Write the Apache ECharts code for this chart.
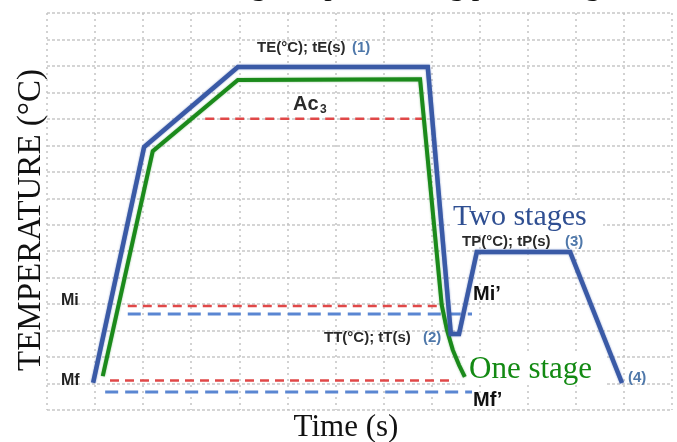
<!DOCTYPE html>
<html><head><meta charset="utf-8">
<script src="https://cdn.jsdelivr.net/npm/echarts@6/dist/echarts.min.js"></script>
<style>html,body{margin:0;padding:0;background:#fff}#c{width:677px;height:442px}</style>
</head><body><div id="c"></div>
<script>
// Axis ranges (schematic, unitless grid)
const xRange = [0, 13];
const yRange = [0, 15];

// Two-stage (Q&P) thermal cycle
const blueTime = [0.96, 2.02, 3.97, 7.92, 8.40, 8.57, 8.94, 10.88, 11.96];
const blueTemp = [1.03, 9.94, 12.96, 12.96, 2.87, 2.87, 5.97, 5.97, 1.02];
// One-stage thermal cycle
const greenTime = [1.16, 2.20, 3.97, 7.76, 8.21, 8.32, 8.44, 8.57, 8.69];
const greenTemp = [1.28, 9.78, 12.47, 12.50, 3.97, 3.02, 2.27, 1.70, 1.25];

// Reference temperatures (dashed)
const ac3Time = [3.29, 7.80];   const ac3Temp = 11.0;
const miTime = [1.68, 8.11];    const miTemp = 3.93;
const miPTime = [1.68, 8.84];   const miPTemp = 3.63;
const mfTime = [1.31, 8.49];    const mfTemp = 1.11;
const mfPTime = [1.21, 8.84];   const mfPTemp = 0.68;

const zip = (xs, ys) => xs.map((x, i) => [x, ys[i]]);
const hline = (xs, y) => xs.map(x => [x, y]);

const chart = echarts.init(document.getElementById('c'), null, {renderer: 'canvas'});
const RED = '#e04848', LBLUE = '#5a86d2';
const dashSeries = (data, color, dash, w) => ({
  type: 'line', data, symbol: 'none', silent: true,
  lineStyle: {color, width: w, type: dash}, z: 3
});
const lab = (x, y, text, opts) => ({
  type: 'text', x, y, z: 100,
  style: Object.assign({text, fill: '#2a2a2a', font: 'bold 15px "Liberation Sans", Arial, sans-serif', textVerticalAlign: 'middle'}, opts || {})
});

chart.setOption({
  animation: false,
  grid: {left: 47, right: 5, top: 13, bottom: 32},
  xAxis: {
    type: 'value', min: xRange[0], max: xRange[1], interval: 1,
    axisLine: {show: false}, axisTick: {show: false}, axisLabel: {show: false},
    splitLine: {show: true, lineStyle: {color: '#c4c4c4', width: 1.5, type: [2, 4]}}
  },
  yAxis: {
    type: 'value', min: yRange[0], max: yRange[1], interval: 1,
    axisLine: {show: false}, axisTick: {show: false}, axisLabel: {show: false},
    splitLine: {show: true, lineStyle: {color: '#c8c8c8', width: 1.5, type: [3, 2]}}
  },
  series: [
    dashSeries(hline(ac3Time, ac3Temp), RED, [9, 6], 2.5),
    dashSeries(hline(miTime, miTemp), RED, [9, 6], 2.5),
    dashSeries(hline(miPTime, miPTemp), LBLUE, [13, 7], 3),
    dashSeries(hline(mfTime, mfTemp), RED, [9, 6], 2.5),
    dashSeries(hline(mfPTime, mfPTemp), LBLUE, [13, 7], 3),
    {type: 'line', data: zip(greenTime, greenTemp), symbol: 'none', z: 4,
     lineStyle: {color: '#1b8a1b', width: 4, join: 'miter', shadowBlur: 2, shadowColor: 'rgba(30,140,30,0.5)'}},
    {type: 'line', data: zip(blueTime, blueTemp), symbol: 'none', z: 5,
     lineStyle: {color: '#3a5aa6', width: 4.5, join: 'miter', shadowBlur: 2, shadowColor: 'rgba(60,90,170,0.6)'}}
  ],
  graphic: [
    {type: 'text', x: 600, y: 2, z: 100, style: {text: 'Quenching and partitioning processing', fill: '#111', font: '30px "Liberation Serif", serif', textAlign: 'right', textVerticalAlign: 'bottom'}},
    {type: 'rect', shape: {x: 451, y: 200, width: 152, height: 33}, style: {fill: '#fff'}, z: 90},
    {type: 'rect', shape: {x: 467, y: 354, width: 140, height: 31}, style: {fill: '#fff'}, z: 90},
    lab(257, 48, 'TE(°C); tE(s)'),
    lab(352, 48, '(1)', {fill: '#4f78aa'}),
    lab(293, 104, 'Ac', {font: 'bold 20px "Liberation Sans", Arial, sans-serif'}),
    lab(320, 110, '3', {font: 'bold 12px "Liberation Sans", Arial, sans-serif'}),
    lab(61, 301, 'Mi', {font: 'bold 16px "Liberation Sans", Arial, sans-serif', fill: '#222'}),
    lab(61, 381, 'Mf', {font: 'bold 16px "Liberation Sans", Arial, sans-serif', fill: '#222'}),
    lab(453, 217, 'Two stages', {fill: '#2f4f92', font: '30px "Liberation Serif", serif'}),
    lab(462, 242, 'TP(°C); tP(s)'),
    lab(565, 242, '(3)', {fill: '#4f78aa'}),
    lab(473, 294, 'Mi’', {font: 'bold 20px "Liberation Sans", Arial, sans-serif', fill: '#111'}),
    lab(324, 338, 'TT(°C); tT(s)'),
    lab(423, 338, '(2)', {fill: '#4f78aa'}),
    lab(469, 370, 'One stage', {fill: '#138a13', font: '31px "Liberation Serif", serif'}),
    lab(628, 378, '(4)', {fill: '#4f78aa'}),
    lab(473, 400, 'Mf’', {font: 'bold 20px "Liberation Sans", Arial, sans-serif', fill: '#111'}),
    {type: 'text', x: 31, y: 220, rotation: Math.PI / 2, z: 100,
     style: {text: 'TEMPERATURE (°C)', fill: '#111', font: '33px "Liberation Serif", serif', textAlign: 'center', textVerticalAlign: 'middle'}},
    {type: 'text', x: 346, y: 428, z: 100,
     style: {text: 'Time (s)', fill: '#111', font: '31px "Liberation Serif", serif', textAlign: 'center', textVerticalAlign: 'middle'}}
  ]
});
</script>
</body></html>
